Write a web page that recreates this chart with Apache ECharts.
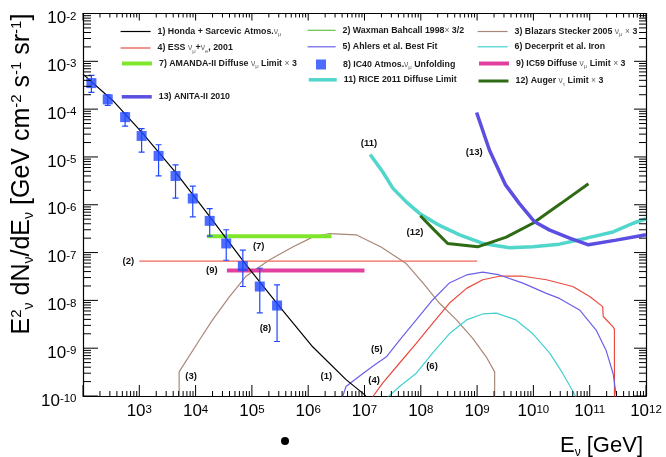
<!DOCTYPE html>
<html><head><meta charset="utf-8">
<script src="https://cdn.jsdelivr.net/npm/echarts@6/dist/echarts.min.js"></script>
<style>html,body{margin:0;padding:0;background:#fff}#c{width:666px;height:457px}</style>
</head><body><div id="c"></div>
<script>
// ---------- data (E in GeV, E^2 dN/dE in GeV cm^-2 s^-1 sr^-1) ----------
const hondaAtmos = [[1.0e2,5.4e-4],[3.4e2,1.5e-4],[1.15e3,3.1e-5],[4.6e3,4.5e-6],[1.8e4,5.6e-7],[7.9e4,5.5e-8],[3.1e5,7.4e-9],[1.2e6,1.07e-9],[4.7e6,2.2e-10],[1.0e7,1.07e-10],[1.12e7,8.9e-11]];
const waxmanBahcall = [[1e3,6.6e-8],[1e9,6.6e-8]];
const blazarsStecker = [[5.1e3,5e-11],[5.1e3,3.2e-10],[1.17e4,1.48e-9],[2.0e4,3.9e-9],[4.0e4,1.2e-8],[7.9e4,3.2e-8],[2.0e5,6.9e-8],[5.4e5,1.32e-7],[1.2e6,2.1e-7],[2.4e6,2.5e-7],[7.1e6,2.35e-7],[2.0e7,1.29e-7],[5.5e7,5.9e-8],[1.1e8,2.3e-8],[2.15e8,8.7e-9],[4.3e8,3.9e-9],[8.3e8,1.62e-9],[1.45e9,6.6e-10],[2.05e9,3.2e-10],[2.05e9,5e-11]];
const essFlux = [[1.25e7,8e-11],[2.1e7,1.86e-10],[4.2e7,4.9e-10],[8.3e7,1.26e-9],[1.62e8,3.3e-9],[3.2e8,8.7e-9],[6.5e8,1.78e-8],[1.26e9,2.7e-8],[2.5e9,3.2e-8],[6.5e9,3.2e-8],[1.7e10,2.7e-8],[5.0e10,1.95e-8],[1.0e11,1.2e-8],[1.7e11,7.4e-9],[1.74e11,4.6e-9],[2.6e11,2.8e-9],[2.75e11,2.5e-9],[2.75e11,5e-11]];
const ahlersFit = [[4.0e6,9e-11],[4.7e6,1.58e-10],[8.1e6,2.6e-10],[1.4e7,4.2e-10],[2.45e7,6.6e-10],[4.2e7,1.48e-9],[8.3e7,3.9e-9],[1.62e8,1.02e-8],[3.2e8,2.3e-8],[6.5e8,3.4e-8],[1.26e9,3.9e-8],[2.5e9,3.4e-8],[6.5e9,2.3e-8],[1.7e10,1.4e-8],[2.9e10,1.1e-8],[6.6e10,6.3e-9],[1.3e11,2.4e-9],[1.95e11,9.1e-10],[2.6e11,2.95e-10],[2.95e11,1.07e-10],[3.1e11,8e-11]];
const decerpritIron = [[2.2e7,8e-11],[4.2e7,1.58e-10],[8.3e7,3.0e-10],[1.62e8,7.9e-10],[3.2e8,2.0e-9],[6.5e8,3.9e-9],[1.26e9,5.2e-9],[2.2e9,5.4e-9],[4.9e9,3.9e-9],[9.8e9,2.0e-9],[1.95e10,7.9e-10],[3.3e10,3.0e-10],[5.6e10,1e-10],[6.3e10,8e-11]];
const amandaLimit = [[1.6e4,2.2e-7],[2.6e6,2.2e-7]];
const ic40Energy = [1.41e2,2.75e2,5.6e2,1.1e3,2.2e3,4.4e3,8.9e3,1.78e4,3.5e4,6.9e4,1.38e5,2.8e5];
const ic40Flux   = [3.5e-4,1.6e-4,6.8e-5,2.75e-5,1.05e-5,4.0e-6,1.35e-6,4.6e-7,1.55e-7,5.2e-8,1.95e-8,7.8e-9];
const ic40Low    = [2.24e-4,1.2e-4,4.4e-5,1.26e-5,4.0e-6,1.38e-6,5.6e-7,2.2e-7,6.9e-8,1.95e-8,5.5e-9,1.38e-9];
const ic40High   = [5.1e-4,2.0e-4,8.3e-5,3.9e-5,1.8e-5,6.8e-6,2.45e-6,8.3e-7,3.0e-7,1.12e-7,4.7e-8,2.1e-8];
const ic59Limit = [[3.6e4,4.2e-8],[1.0e7,4.2e-8]];
const riceLimit = [[1.26e7,1.12e-5],[2.1e7,4.9e-6],[3.2e7,2.2e-6],[5.5e7,1.15e-6],[9.5e7,6.6e-7],[2.15e8,3.7e-7],[4.9e8,2.35e-7],[1.26e9,1.55e-7],[3.8e9,1.26e-7],[9.8e9,1.32e-7],[2.9e10,1.5e-7],[8.7e10,2.0e-7],[2.6e11,2.7e-7],[5.9e11,4.1e-7],[1.0e12,5.1e-7]];
const augerLimit = [[9.8e7,5.9e-7],[1.74e8,2.95e-7],[3.0e8,1.55e-7],[1.02e9,1.32e-7],[3.3e9,2.1e-7],[9.8e9,4.1e-7],[3.1e10,1.07e-6],[9.5e10,2.75e-6]];
const anitaLimit = [[9.8e8,8.5e-5],[1.66e9,1.38e-5],[3.2e9,2.6e-6],[5.6e9,1.07e-6],[1.05e10,4.4e-7],[1.95e10,2.95e-7],[4.4e10,2.0e-7],[9.5e10,1.45e-7],[2.95e11,1.82e-7],[1.0e12,2.35e-7]];
const curveTags = ['(1)','(2)','(3)','(4)','(5)','(6)','(7)','(8)','(9)','(11)','(12)','(13)'];
const curveTagAt = [[2.1e6,2.6e-10],[6.4e2,6.5e-8],[8.3e3,2.6e-10],[1.48e7,2.1e-10],[1.66e7,9.5e-10],[1.58e8,4.2e-10],[1.32e5,1.32e-7],[1.74e5,2.6e-9],[1.95e4,4.2e-8],[1.2e7,1.95e-5],[7.9e7,2.6e-7],[8.9e8,1.26e-5]];
const xMajorTicks = [1e2,1e3,1e4,1e5,1e6,1e7,1e8,1e9,1e10,1e11,1e12];
const yMajorTicks = [1e-10,1e-9,1e-8,1e-7,1e-6,1e-5,1e-4,1e-3,1e-2];

// ---------- helpers ----------
const FONT = 'Liberation Sans, Arial, Helvetica, sans-serif';
function minorTicks(decades){
  const out=[];
  for (let i=0;i<decades.length-1;i++) for (let k=2;k<=9;k++) out.push(k*decades[i]);
  return out;
}
const xMinor = minorTicks(xMajorTicks);
const yMinor = minorTicks(yMajorTicks);
function expOf(v){ return Math.round(Math.log10(v)); }

const xLabelRich = {
  b:{fontSize:17, lineHeight:17, padding:[5,0,0,0], fontFamily:FONT, color:'#000'},
  s:{fontSize:11.5, lineHeight:12, verticalAlign:'top', padding:[3,0,0,0], fontFamily:FONT, color:'#000'}
};
const yLabelRich = {
  b:{fontSize:17, lineHeight:17, padding:[10,0,0,0], fontFamily:FONT, color:'#000'},
  s:{fontSize:11.5, lineHeight:12, verticalAlign:'top', padding:[5.5,0,0,0], fontFamily:FONT, color:'#000'}
};
const AX = {color:'#000', width:1.2};
const X_MIN=1e2, X_MAX=1e12, Y_MIN=1e-10, Y_MAX=1e-2;

function xAx(pos, labels){
  return {
    type:'log', logBase:10, min:X_MIN, max:X_MAX, interval:1, splitNumber:10, position:pos,
    axisLine:{show:true, onZero:false, lineStyle:AX},
    axisTick:{show:false},
    axisLabel:labels ? {show:true, margin:4.5, showMinLabel:false, showMaxLabel:true, hideOverlap:false,
        formatter:v=>'{b|10}{s|'+expOf(v)+'}', rich:xLabelRich} : {show:false},
    splitLine:{show:false}, minorTick:{show:false}
  };
}
function yAx(pos, labels){
  return {
    type:'log', logBase:10, min:Y_MIN, max:Y_MAX, interval:1, splitNumber:8, position:pos,
    axisLine:{show:true, onZero:false, lineStyle:AX},
    axisTick:{show:false},
    axisLabel:labels ? {show:true, margin:6.5, showMinLabel:true, showMaxLabel:true, hideOverlap:false,
        formatter:v=>'{b|10}{s|'+expOf(v)+'}', rich:yLabelRich} : {show:false},
    splitLine:{show:false}, minorTick:{show:false}
  };
}

// frame ticks drawn through the log scales (ROOT style, inside, on all four sides)
function tickSeries(values, vertical, lenA, lenB){
  return {type:'custom', name:'ticks', silent:true, clip:false, z:8, xAxisIndex:0, yAxisIndex:0,
    data: values.map(v=> vertical ? [v, 1e-6] : [1e6, v]),
    encode: vertical ? {x:0} : {y:1},
    renderItem:(params, api)=>{
      const st={stroke:'#000', lineWidth:1};
      if (vertical) {
        const v=api.value(0);
        const b=api.coord([v, Y_MIN]), t=api.coord([v, Y_MAX]);
        return {type:'group', children:[
          {type:'line', shape:{x1:b[0],y1:b[1],x2:b[0],y2:b[1]-lenA}, style:st},
          {type:'line', shape:{x1:t[0],y1:t[1],x2:t[0],y2:t[1]+lenB}, style:st}]};
      } else {
        const v=api.value(1);
        const l=api.coord([X_MIN, v]), r=api.coord([X_MAX, v]);
        return {type:'group', children:[
          {type:'line', shape:{x1:l[0],y1:l[1],x2:l[0]+lenA,y2:l[1]}, style:st},
          {type:'line', shape:{x1:r[0],y1:r[1],x2:r[0]-lenB,y2:r[1]}, style:st}]};
      }
    }};
}

function lineSeries(name, data, color, width){
  return {type:'line', name, data, symbol:'none', clip:true, silent:true,
    lineStyle:{color, width}, itemStyle:{color}, xAxisIndex:0, yAxisIndex:0, z:3};
}

const C = {
  honda:'#000000', wbLegend:'#66c040', wb:'#f2665a', blazar:'#a88878', ess:'#ea4a3e',
  ahlers:'#6b60e8', decerprit:'#45d0d0', amanda:'#80e62c', ic40:'#1f47ff',
  ic59:'#e2409e', rice:'#52d6cc', auger:'#2f6a14', anita:'#5b4ee0'
};

const ic40Points = ic40Energy.map((e,i)=>[e, ic40Flux[i]]);
const ic40Errors = ic40Energy.map((e,i)=>[e, ic40Low[i], ic40High[i]]);

const series = [
  lineSeries('blazar', blazarsStecker, C.blazar, 1.2),
  lineSeries('wb', waxmanBahcall, C.wb, 1.2),
  lineSeries('ess', essFlux, C.ess, 1.2),
  lineSeries('ahlers', ahlersFit, C.ahlers, 1.2),
  lineSeries('decerprit', decerpritIron, C.decerprit, 1.2),
  lineSeries('amanda', amandaLimit, C.amanda, 4),
  lineSeries('ic59', ic59Limit, C.ic59, 4),
  lineSeries('rice', riceLimit, C.rice, 3.5),
  lineSeries('auger', augerLimit, C.auger, 3),
  lineSeries('anita', anitaLimit, C.anita, 3.5),
  lineSeries('honda', hondaAtmos, C.honda, 1.2),
  {type:'custom', name:'ic40err', xAxisIndex:0, yAxisIndex:0, silent:true, z:4, clip:true,
   data:ic40Errors, encode:{x:0, y:[1,2]},
   renderItem:(params, api)=>{
     const x=api.value(0), lo=api.value(1), hi=api.value(2);
     const a=api.coord([x,hi]), b=api.coord([x,lo]);
     const st={stroke:C.ic40, lineWidth:1.2};
     return {type:'group', children:[
       {type:'line', shape:{x1:a[0],y1:a[1],x2:b[0],y2:b[1]}, style:st},
       {type:'line', shape:{x1:a[0]-3,y1:a[1],x2:a[0]+3,y2:a[1]}, style:st},
       {type:'line', shape:{x1:b[0]-3,y1:b[1],x2:b[0]+3,y2:b[1]}, style:st}
     ]};
   }},
  {type:'scatter', name:'ic40', data:ic40Points, symbol:'rect', symbolSize:10, silent:true,
   itemStyle:{color:C.ic40}, xAxisIndex:0, yAxisIndex:0, z:5},
  {type:'scatter', name:'tags', silent:true, xAxisIndex:0, yAxisIndex:0, z:6,
   symbolSize:1, itemStyle:{color:'rgba(0,0,0,0)'},
   data:curveTags.map((t,i)=>({name:t, value:curveTagAt[i]})),
   label:{show:true, position:'inside', formatter:'{b}', fontFamily:FONT, fontWeight:'bold', fontSize:9.5, color:'#111', opacity:1}},
  tickSeries(xMajorTicks, true, 11, 7),
  tickSeries(xMinor, true, 5, 4),
  tickSeries(yMajorTicks, false, 15, 12),
  tickSeries(yMinor, false, 8, 7)
];

// ---------- legend ----------
const legendText = {
  honda:'{t|1) Honda + Sarcevic Atmos.}{g|ν}{s|μ}',
  wb:'{t|2) Waxman Bahcall 1998}{g|×}{t| 3/2}',
  blazar:'{t|3) Blazars Stecker 2005 }{g|ν}{s|μ}{t| }{g|×}{t| 3}',
  ess:'{t|4) ESS }{g|ν}{s|μ}{t|+}{g|ν}{s|e}{t|, 2001}',
  ahlers:'{t|5) Ahlers et al. Best Fit}',
  decerprit:'{t|6) Decerprit et al. Iron}',
  amanda:'{t|7) AMANDA-II Diffuse }{g|ν}{s|μ}{t| Limit }{g|×}{t| 3}',
  ic40:'{t|8) IC40 Atmos.}{g|ν}{s|μ}{t| Unfolding}',
  ic59:'{t|9) IC59 Diffuse }{g|ν}{s|μ}{t| Limit }{g|×}{t| 3}',
  rice:'{t|11) RICE 2011 Diffuse Limit}',
  auger:'{t|12) Auger }{g|ν}{s|τ}{t| Limit }{g|×}{t| 3}',
  anita:'{t|13) ANITA-II 2010}'
};
const legendRich = {
  t:{fontFamily:FONT, fontWeight:'bold', fontSize:8.8, lineHeight:10, color:'#1a1a1a'},
  g:{fontFamily:FONT, fontWeight:'normal', fontSize:8.5, lineHeight:10, color:'#666'},
  s:{fontFamily:FONT, fontWeight:'normal', fontSize:6, lineHeight:6, padding:[6,0,0,0], color:'#666'}
};
const legendSlots = [
  ['honda',0,0],['wb',1,0],['blazar',2,0],
  ['ess',0,1],['ahlers',1,1],['decerprit',2,1],
  ['amanda',0,2],['ic40',1,2],['ic59',2,2],
  ['rice',1,3],['auger',2,3],['anita',0,4]
];
const legendWidth = {honda:1.2,wb:1.2,blazar:1.2,ess:1.2,ahlers:1.2,decerprit:1.2,amanda:4,ic59:4,rice:3.5,auger:3,anita:3.5};
const colLeft=[120,307,477], colW=[30,28,30], rowY=[31.5,48,63.5,81,98];
const legends = legendSlots.map(([key,c,r])=>{
  if (key==='ic40') {
    return {show:true, selectedMode:false, left:316, top:rowY[r]-5, itemWidth:10, itemHeight:10, padding:0,
      data:[{name:'ic40', icon:'rect', itemStyle:{color:C.ic40}}],
      formatter:n=>legendText[n], textStyle:{rich:legendRich, padding:[0,0,0,12]}};
  }
  const col = key==='wb' ? C.wbLegend : C[key];
  return {show:true, selectedMode:false, left:colLeft[c], top:rowY[r]-6, itemWidth:colW[c], itemHeight:12, padding:0,
    data:[{name:key, lineStyle:{color:col, width:legendWidth[key], opacity:1},
           itemStyle:{color:'rgba(0,0,0,0)', borderWidth:0, borderColor:'rgba(0,0,0,0)'}}],
    formatter:n=>legendText[n], textStyle:{rich:legendRich, padding:[0,0,0,2]}};
});

const option = {
  animation:false,
  backgroundColor:'#fff',
  grid:{left:83, top:13, width:563, height:383, containLabel:false},
  xAxis:[xAx('bottom',true), xAx('top',false)],
  yAxis:[yAx('left',true), yAx('right',false)],
  legend:legends,
  series:series,
  graphic:[
    {type:'text', x:22, y:174, rotation:Math.PI/2, z:10,
     style:{text:'E{sp|2}{sb|ν} dN{sb|ν}/dE{sb|ν} [GeV cm{sp|-2} s{sp|-1} sr{sp|-1}]', align:'center', verticalAlign:'middle',
       fontFamily:FONT, fontSize:25, fill:'#000',
       rich:{
         sp:{fontFamily:FONT, fontSize:15, lineHeight:15, verticalAlign:'top', fill:'#000'},
         sb:{fontFamily:FONT, fontSize:14, lineHeight:14, padding:[15,0,0,0], fill:'#000'}
       }}},
    {type:'text', x:643, y:446, z:10,
     style:{text:'E{sb|ν} [GeV]', align:'right', verticalAlign:'middle', fontFamily:FONT, fontSize:22, fill:'#000',
       rich:{sb:{fontFamily:FONT, fontSize:12, lineHeight:12, padding:[14,0,0,0], fill:'#000'}}}},
    {type:'circle', shape:{cx:285, cy:441, r:4}, style:{fill:'#000'}}
  ]
};
const chart = echarts.init(document.getElementById('c'), null, {renderer:'canvas'});
chart.setOption(option);
</script>
</body></html>
